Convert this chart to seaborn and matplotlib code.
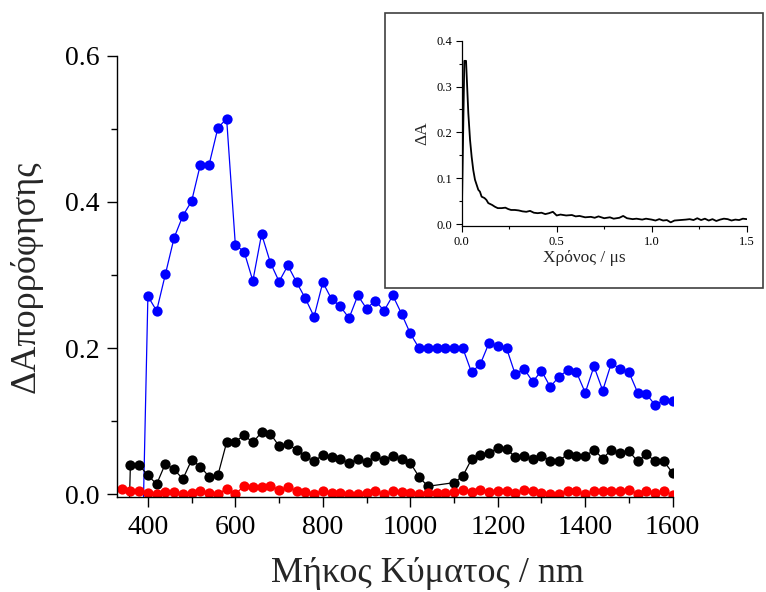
import numpy as np
import pandas as pd
import matplotlib
matplotlib.use("Agg")
import matplotlib.pyplot as plt
from matplotlib.patches import Rectangle
from matplotlib.ticker import MultipleLocator, FormatStrFormatter
import seaborn as sns

# Transient absorption spectra: wavelength (nm) and ΔA for three delays
wl_blue = [380, 400, 420, 440, 460, 480, 500, 520, 540, 560, 580, 600, 620, 640, 660,
           680, 700, 720, 740, 760, 780, 800, 820, 840, 860, 880, 900, 920, 940, 960,
           980, 1000, 1020, 1040, 1060, 1080, 1100, 1120, 1140, 1160, 1180, 1200, 1220,
           1240, 1260, 1280, 1300, 1320, 1340, 1360, 1380, 1400, 1420, 1440, 1460, 1480,
           1500, 1520, 1540, 1560, 1580, 1600]
da_blue = [-0.28, 0.271, 0.251, 0.301, 0.351, 0.381, 0.401, 0.451, 0.451, 0.501, 0.514,
           0.341, 0.332, 0.292, 0.356, 0.317, 0.291, 0.313, 0.290, 0.268, 0.243, 0.290,
           0.267, 0.257, 0.241, 0.272, 0.254, 0.265, 0.251, 0.272, 0.247, 0.220, 0.200,
           0.200, 0.200, 0.200, 0.200, 0.200, 0.167, 0.178, 0.207, 0.203, 0.200, 0.164,
           0.172, 0.154, 0.169, 0.147, 0.161, 0.170, 0.167, 0.139, 0.175, 0.142, 0.180,
           0.171, 0.167, 0.139, 0.137, 0.122, 0.129, 0.127]

wl_black = [340, 360, 380, 400, 420, 440, 460, 480, 500, 520, 540, 560, 580, 600, 620,
            640, 660, 680, 700, 720, 740, 760, 780, 800, 820, 840, 860, 880, 900, 920,
            940, 960, 980, 1000, 1020, 1040, 1060, 1080, 1100, 1120, 1140, 1160, 1180,
            1200, 1220, 1240, 1260, 1280, 1300, 1320, 1340, 1360, 1380, 1400, 1420, 1440,
            1460, 1480, 1500, 1520, 1540, 1560, 1580, 1600]
da_black = [-0.40, 0.040, 0.040, 0.026, 0.014, 0.042, 0.034, 0.021, 0.047, 0.038, 0.024,
            0.026, 0.071, 0.072, 0.081, 0.071, 0.085, 0.083, 0.066, 0.069, 0.061, 0.052,
            0.045, 0.054, 0.051, 0.048, 0.043, 0.048, 0.044, 0.052, 0.047, 0.053, 0.048,
            0.043, 0.024, 0.011, np.nan, np.nan, 0.016, 0.025, 0.048, 0.054, 0.057, 0.063,
            0.062, 0.051, 0.053, 0.048, 0.053, 0.046, 0.046, 0.055, 0.052, 0.052, 0.061,
            0.049, 0.061, 0.057, 0.059, 0.045, 0.055, 0.045, 0.045, 0.029]

wl_red = [340, 360, 380, 400, 420, 440, 460, 480, 500, 520, 540, 560, 580, 600, 620,
          640, 660, 680, 700, 720, 740, 760, 780, 800, 820, 840, 860, 880, 900, 920,
          940, 960, 980, 1000, 1020, 1040, 1060, 1080, 1100, 1120, 1140, 1160, 1180,
          1200, 1220, 1240, 1260, 1280, 1300, 1320, 1340, 1360, 1380, 1400, 1420, 1440,
          1460, 1480, 1500, 1520, 1540, 1560, 1580, 1600]
da_red = [0.007, 0.005, 0.004, 0.002, 0.001, 0.003, 0.003, 0.001, 0.002, 0.005, 0.002,
          0.000, 0.008, 0.000, 0.012, 0.010, 0.010, 0.012, 0.006, 0.010, 0.005, 0.003,
          0.001, 0.005, 0.002, 0.002, 0.001, 0.000, 0.002, 0.004, 0.001, 0.004, 0.003,
          0.002, 0.001, 0.002, 0.002, 0.002, 0.003, 0.006, 0.003, 0.006, 0.003, 0.004,
          0.004, 0.002, 0.006, 0.004, 0.002, 0.001, 0.000, 0.005, 0.004, 0.001, 0.004,
          0.005, 0.004, 0.004, 0.006, 0.001, 0.004, 0.002, 0.005, -0.001]

# Kinetic trace (inset): time (μs) and ΔA
t_us = [0.0, 0.014, 0.023, 0.035, 0.044, 0.0525, 0.061, 0.07, 0.0875, 0.096, 0.105,
        0.12, 0.13, 0.14, 0.16, 0.175, 0.19, 0.21, 0.23, 0.245, 0.26, 0.28, 0.30, 0.32,
        0.34, 0.36, 0.38, 0.40, 0.42, 0.44, 0.46, 0.48, 0.50, 0.52, 0.55, 0.58, 0.60,
        0.62, 0.65, 0.68, 0.70, 0.72, 0.75, 0.78, 0.80, 0.83, 0.85, 0.87, 0.90, 0.92,
        0.95, 0.97, 1.00, 1.02, 1.04, 1.06, 1.08, 1.10, 1.12, 1.15, 1.18, 1.20, 1.22,
        1.24, 1.26, 1.28, 1.30, 1.32, 1.34, 1.36, 1.38, 1.40, 1.42, 1.44, 1.46, 1.48, 1.50]
da_t = [0.0, 0.356, 0.356, 0.242, 0.184, 0.147, 0.118, 0.097, 0.075, 0.071, 0.060,
        0.057, 0.053, 0.046, 0.042, 0.038, 0.035, 0.035, 0.036, 0.033, 0.031, 0.031, 0.030,
        0.028, 0.027, 0.029, 0.025, 0.024, 0.025, 0.022, 0.024, 0.027, 0.019, 0.021, 0.019,
        0.020, 0.017, 0.018, 0.015, 0.016, 0.014, 0.017, 0.013, 0.015, 0.012, 0.014, 0.018,
        0.013, 0.011, 0.012, 0.010, 0.012, 0.010, 0.008, 0.011, 0.008, 0.009, 0.004, 0.008,
        0.009, 0.010, 0.011, 0.009, 0.013, 0.009, 0.012, 0.008, 0.011, 0.007, 0.010, 0.012,
        0.011, 0.008, 0.010, 0.009, 0.012, 0.011]

sns.set_theme(style="ticks")
plt.rcParams["font.family"] = ["Liberation Serif", "DejaVu Serif"]

fig = plt.figure(figsize=(7.66, 5.92), dpi=100)
fig.patch.set_facecolor("white")
ax = fig.add_axes([0.1531, 0.16, 0.7251, 0.746])
ax.set_facecolor("white")

series = [
    (wl_blue, da_blue, "#0000ff"),
    (wl_black, da_black, "#000000"),
    (wl_red, da_red, "#ff0000"),
]
for wl, da, col in series:
    df = pd.DataFrame({"wl": wl, "da": da})
    sns.lineplot(data=df, x="wl", y="da", ax=ax, color=col, lw=0.9,
                 marker="o", markersize=7.4, markeredgewidth=0,
                 estimator=None, sort=False)

ax.set_xlim(330, 1600)
ax.set_ylim(-0.004, 0.6)
ax.xaxis.set_major_locator(MultipleLocator(200))
ax.xaxis.set_minor_locator(MultipleLocator(100))
ax.yaxis.set_major_locator(MultipleLocator(0.2))
ax.yaxis.set_minor_locator(MultipleLocator(0.1))
ax.yaxis.set_major_formatter(FormatStrFormatter("%.1f"))
ax.tick_params(which="major", direction="out", length=7, width=1.0,
               labelsize=20, color="black", labelcolor="black", pad=6)
ax.tick_params(which="minor", direction="out", length=4, width=1.0, color="black")
for s in ["top", "right"]:
    ax.spines[s].set_visible(False)
for s in ["left", "bottom"]:
    ax.spines[s].set_linewidth(1.0)
    ax.spines[s].set_color("black")
ax.set_xlabel("Μήκος Κύματος / nm", fontsize=26)
ax.set_ylabel("ΔΑπορρόφησης", fontsize=26)
ax.xaxis.set_label_coords(0.559, -0.135)
ax.yaxis.set_label_coords(-0.135, 0.5)

# Inset frame and kinetic trace
frame = Rectangle((0.5026, 0.5135), 0.4935, 0.4645, transform=fig.transFigure,
                  facecolor="white", edgecolor="#404040", lw=1.2, zorder=2)
fig.patches.append(frame)

axin = fig.add_axes([0.6027, 0.6182, 0.3721, 0.3131])
axin.set_zorder(3)
axin.patch.set_alpha(0)
dft = pd.DataFrame({"t": t_us, "da": da_t})
sns.lineplot(data=dft, x="t", y="da", ax=axin, color="black", lw=1.3,
             estimator=None, sort=False)
axin.set_xlim(0, 1.5)
axin.set_ylim(-0.004, 0.4)
axin.xaxis.set_major_locator(MultipleLocator(0.5))
axin.xaxis.set_minor_locator(MultipleLocator(0.25))
axin.yaxis.set_major_locator(MultipleLocator(0.1))
axin.yaxis.set_minor_locator(MultipleLocator(0.05))
axin.tick_params(which="major", direction="out", length=4, width=0.8,
                 labelsize=9, pad=3, colors="black")
axin.tick_params(which="minor", direction="out", length=2.5, width=0.8, colors="black")
for s in ["top", "right"]:
    axin.spines[s].set_visible(False)
for s in ["left", "bottom"]:
    axin.spines[s].set_linewidth(0.9)
    axin.spines[s].set_color("black")
axin.set_xlabel("Χρόνος / μs", fontsize=12.5)
axin.set_ylabel("ΔA", fontsize=12.5)
axin.xaxis.set_label_coords(0.43, -0.13)

fig.savefig("out.png", dpi=100, facecolor="white")
